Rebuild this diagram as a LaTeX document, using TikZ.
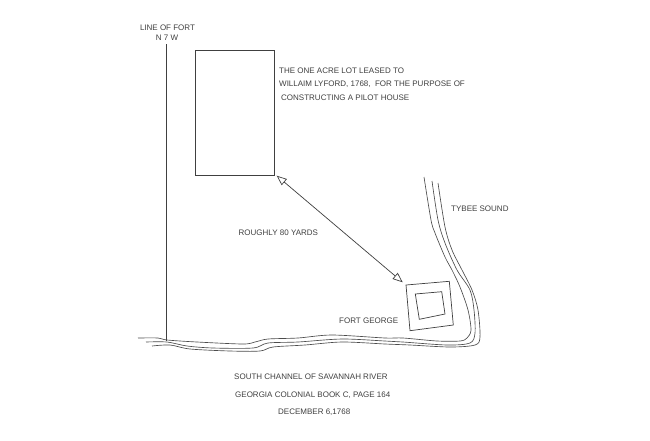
\documentclass[tikz,border=0pt]{standalone}
\usepackage{fontspec}
\setmainfont{Liberation Sans}
\usetikzlibrary{arrows.meta}
\tikzset{
    label text/.style={font=\fontsize{8}{10}\selectfont, text=black!75, inner sep=0pt},
    left text/.style={label text, anchor=west},
    ink/.style={draw=black!75, line width=0.7pt},
    shore/.style={draw=black!70, line width=0.65pt, smooth, tension=0.5}
}
\begin{document}
\begin{tikzpicture}[x=1pt, y=-1pt]
    \useasboundingbox[fill=white] (0,0) rectangle (650,440);
    % lot and line of fort
    \node[ink, minimum width=79pt, minimum height=125pt, inner sep=0pt] (lot) at (234.5,112.5) {};
    \node[label text] (lineoffort) at (167.5,28) {LINE OF FORT};
    \node[label text] (bearing) at (167,37.5) {N 7 W};
    \coordinate (linetop) at (166,44);
    \coordinate (linefoot) at (166,341);
    \draw[ink] (linetop) -- (linefoot);
    % the river, three lines
    \draw[shore] plot coordinates {(138,338) (158,338) (167,340) (197,342) (243,344) (255,342) (268,339) (298,338) (332,335) (385,338) (403,338) (437,341) (460,341) (467,338) (471,330) (468,310) (460,287) (452,270) (445,257) (435,233) (431,220) (424,177)};
    \draw[shore] plot coordinates {(146,342) (167,342) (187,346) (213,348) (253,348) (268,343) (298,342) (342,339) (385,341) (403,342) (447,345) (470,343) (475,333) (474,310) (470,290) (457,270) (445,243) (438,220) (432,181)};
    \draw[shore] plot coordinates {(152,346) (170,345) (190,349) (230,351) (260,351) (273,347) (305,345) (342,342) (385,344) (410,345) (450,347) (475,345) (480,337) (478,310) (472,290) (462,270) (452,250) (445,227) (438,183)};
    % fort
    \draw[ink] (406,285) -- (449.3,281.3) -- (453.3,325) -- (410,330.7) -- cycle;
    \draw[ink] (415.3,294) -- (441.7,291.7) -- (445,314) -- (419.3,319.3) -- cycle;
    \coordinate (lotcorner) at (276.7,175.7);
    \coordinate (fortcorner) at (402.7,282.3);
    \draw[ink, {Triangle[open, length=10pt, width=8pt]}-{Triangle[open, length=10pt, width=8pt]}] (lotcorner) -- (fortcorner);
    % labels
    \node[left text] (leaseone) at (279,70.5) {THE ONE ACRE LOT LEASED TO};
    \node[left text] (leasetwo) at (279,84) {WILLAIM LYFORD, 1768,\ \ FOR THE PURPOSE OF};
    \node[left text] (leasethree) at (281,98) {CONSTRUCTING A PILOT HOUSE};
    \node[left text] (tybee) at (451,209) {TYBEE SOUND};
    \node[left text] (yards) at (238.5,233) {ROUGHLY 80 YARDS};
    \node[left text] (fortgeorge) at (339,321) {FORT GEORGE};
    \node[left text] (channel) at (234,377) {SOUTH CHANNEL OF SAVANNAH RIVER};
    \node[left text] (book) at (235,395) {GEORGIA COLONIAL BOOK C, PAGE 164};
    \node[left text] (date) at (278,412) {DECEMBER 6,1768};
\end{tikzpicture}
\end{document}
